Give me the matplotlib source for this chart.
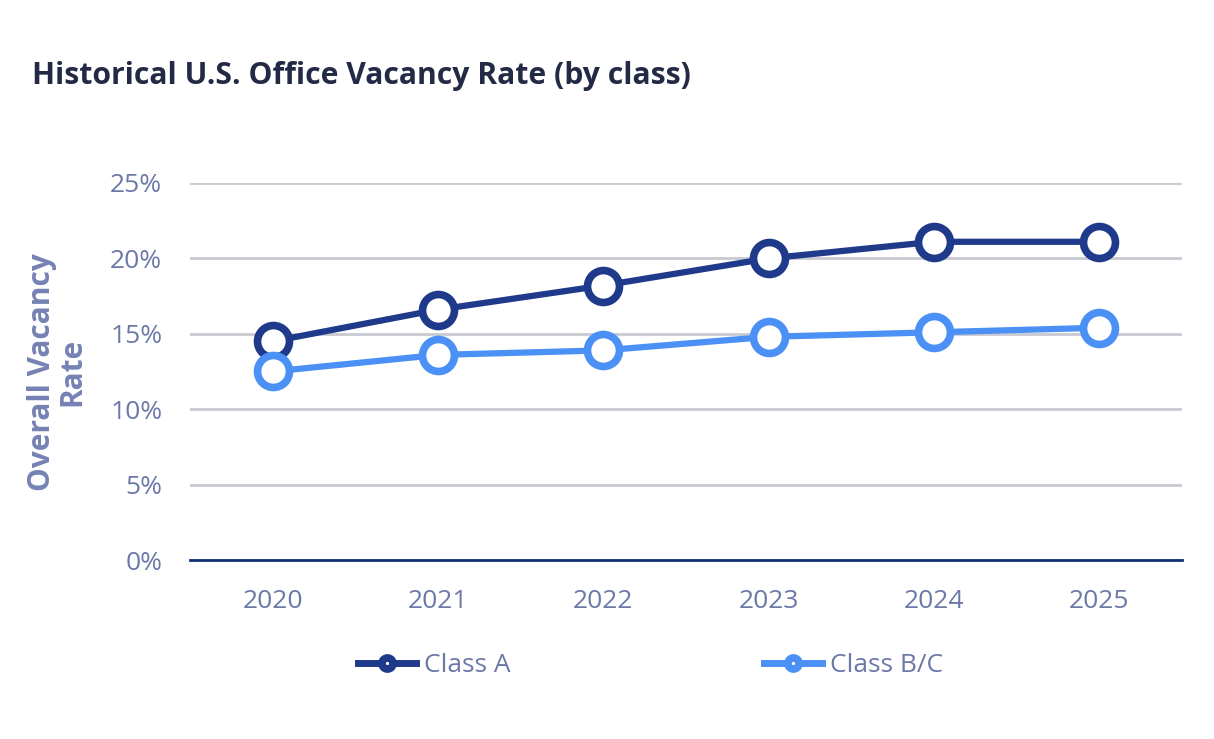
import matplotlib
matplotlib.use("Agg")
import matplotlib.pyplot as plt
from matplotlib.lines import Line2D

plt.rcParams['font.family'] = ['Open Sans', 'DejaVu Sans']

# Datos
years = ['2020', '2021', '2022', '2023', '2024', '2025']
class_a = [14.5, 16.6, 18.2, 20.0, 21.1, 21.1]
class_bc = [12.5, 13.6, 13.9, 14.8, 15.1, 15.4]
y_ticks = [0, 5, 10, 15, 20, 25]
y_labels = ['0%', '5%', '10%', '15%', '20%', '25%']

dark = '#1f3a8a'
light = '#4a90f5'
tick_color = '#6b78a8'

fig = plt.figure(figsize=(12.14, 7.39), dpi=100)
ax = fig.add_axes([0.1565, 0.2422, 0.817, 0.5102])

x = range(len(years))
for vals, col in [(class_a, dark), (class_bc, light)]:
    ax.plot(x, vals, color=col, linewidth=4.5, marker='o', markersize=23,
            markerfacecolor='white', markeredgecolor=col, markeredgewidth=5.5,
            clip_on=False, zorder=3)

ax.set_xlim(-0.5, 5.5)
ax.set_ylim(0, 25)
ax.set_xticks(list(x))
ax.set_xticklabels(years)
ax.set_yticks(y_ticks)
ax.set_yticklabels(y_labels)
ax.tick_params(axis='both', length=0, labelsize=19, labelcolor=tick_color)
ax.tick_params(axis='x', pad=21)
ax.tick_params(axis='y', pad=20)
for t in ax.get_yticklabels():
    t.set_horizontalalignment('right')

ax.grid(axis='y', color='#c9c9d2', linewidth=2)
ax.set_axisbelow(True)
for s in ['top', 'right', 'left']:
    ax.spines[s].set_visible(False)
ax.spines['bottom'].set_color('#12307a')
ax.spines['bottom'].set_linewidth(2)

fig.text(0.047, 0.497, 'Overall Vacancy\nRate', rotation=90, ha='center', va='center',
         fontsize=21.5, fontweight='bold', color='#7582b4', linespacing=1.0)

fig.text(0.026, 0.897, 'Historical U.S. Office Vacancy Rate (by class)', fontsize=21.7,
         fontweight='bold', color='#232a45', va='center')

# Leyenda: circulo casi lleno con un punto blanco al centro
handles = [
    Line2D([], [], color=dark, linewidth=5, marker='o', markersize=8,
           markerfacecolor='white', markeredgecolor=dark, markeredgewidth=5.5),
    Line2D([], [], color=light, linewidth=5, marker='o', markersize=8,
           markerfacecolor='white', markeredgecolor=light, markeredgewidth=5.5),
]
fig.legend(handles, ['Class A', 'Class B/C'], loc='center', bbox_to_anchor=(0.536, 0.099),
           ncol=2, frameon=False, fontsize=19, labelcolor=tick_color,
           handlelength=2.2, handletextpad=0.3, columnspacing=9.6)

fig.savefig('out.png', dpi=100)
